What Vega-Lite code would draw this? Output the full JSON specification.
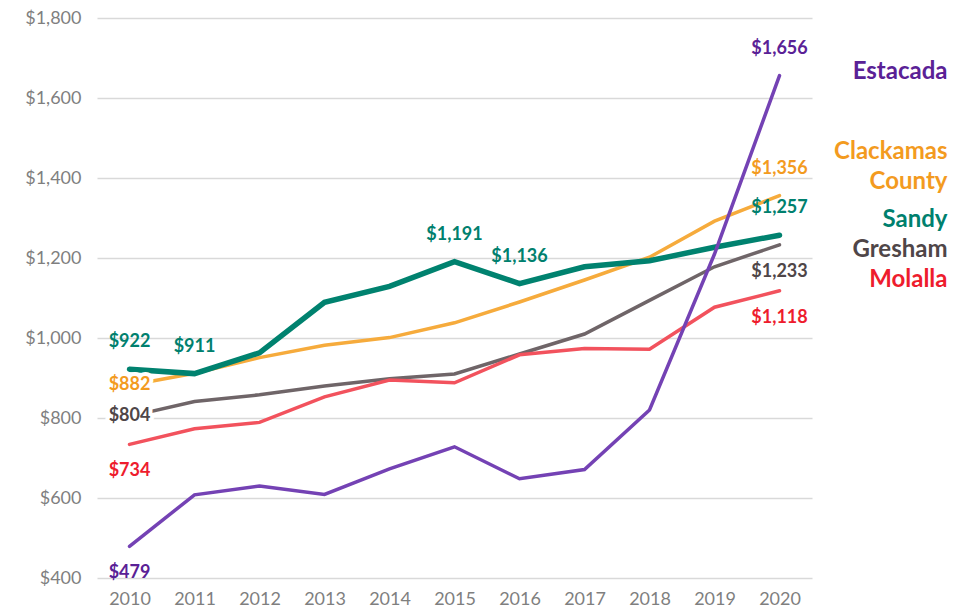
{
  "$schema": "https://vega.github.io/schema/vega-lite/v6.json",
  "width": 715,
  "height": 560,
  "autosize": "none",
  "padding": {"left": 97, "top": 18, "right": 156, "bottom": 33},
  "background": "white",
  "config": {"view": {"stroke": null}, "font": "Lato"},
  "datasets": {
    "rents": [
      {"series": "Gresham", "year": 2010, "rent": 804},
      {"series": "Gresham", "year": 2011, "rent": 841},
      {"series": "Gresham", "year": 2012, "rent": 858},
      {"series": "Gresham", "year": 2013, "rent": 880},
      {"series": "Gresham", "year": 2014, "rent": 898},
      {"series": "Gresham", "year": 2015, "rent": 910},
      {"series": "Gresham", "year": 2016, "rent": 960},
      {"series": "Gresham", "year": 2017, "rent": 1010},
      {"series": "Gresham", "year": 2018, "rent": 1094},
      {"series": "Gresham", "year": 2019, "rent": 1178},
      {"series": "Gresham", "year": 2020, "rent": 1233},
      {"series": "Molalla", "year": 2010, "rent": 734},
      {"series": "Molalla", "year": 2011, "rent": 773},
      {"series": "Molalla", "year": 2012, "rent": 789},
      {"series": "Molalla", "year": 2013, "rent": 853},
      {"series": "Molalla", "year": 2014, "rent": 895},
      {"series": "Molalla", "year": 2015, "rent": 888},
      {"series": "Molalla", "year": 2016, "rent": 958},
      {"series": "Molalla", "year": 2017, "rent": 974},
      {"series": "Molalla", "year": 2018, "rent": 972},
      {"series": "Molalla", "year": 2019, "rent": 1077},
      {"series": "Molalla", "year": 2020, "rent": 1118},
      {"series": "Clackamas County", "year": 2010, "rent": 882},
      {"series": "Clackamas County", "year": 2011, "rent": 912},
      {"series": "Clackamas County", "year": 2012, "rent": 951},
      {"series": "Clackamas County", "year": 2013, "rent": 982},
      {"series": "Clackamas County", "year": 2014, "rent": 1001},
      {"series": "Clackamas County", "year": 2015, "rent": 1038},
      {"series": "Clackamas County", "year": 2016, "rent": 1090},
      {"series": "Clackamas County", "year": 2017, "rent": 1145},
      {"series": "Clackamas County", "year": 2018, "rent": 1202},
      {"series": "Clackamas County", "year": 2019, "rent": 1292},
      {"series": "Clackamas County", "year": 2020, "rent": 1356},
      {"series": "Sandy", "year": 2010, "rent": 922},
      {"series": "Sandy", "year": 2011, "rent": 911},
      {"series": "Sandy", "year": 2012, "rent": 963},
      {"series": "Sandy", "year": 2013, "rent": 1089},
      {"series": "Sandy", "year": 2014, "rent": 1129},
      {"series": "Sandy", "year": 2015, "rent": 1191},
      {"series": "Sandy", "year": 2016, "rent": 1136},
      {"series": "Sandy", "year": 2017, "rent": 1178},
      {"series": "Sandy", "year": 2018, "rent": 1193},
      {"series": "Sandy", "year": 2019, "rent": 1227},
      {"series": "Sandy", "year": 2020, "rent": 1257},
      {"series": "Estacada", "year": 2010, "rent": 479},
      {"series": "Estacada", "year": 2011, "rent": 608},
      {"series": "Estacada", "year": 2012, "rent": 630},
      {"series": "Estacada", "year": 2013, "rent": 609},
      {"series": "Estacada", "year": 2014, "rent": 673},
      {"series": "Estacada", "year": 2015, "rent": 728},
      {"series": "Estacada", "year": 2016, "rent": 648},
      {"series": "Estacada", "year": 2017, "rent": 671},
      {"series": "Estacada", "year": 2018, "rent": 820},
      {"series": "Estacada", "year": 2019, "rent": 1210},
      {"series": "Estacada", "year": 2020, "rent": 1656}
    ],
    "names": [
      {"series": "Estacada", "name": "Estacada", "labelValue": 1665},
      {"series": "Clackamas County", "name": "Clackamas\nCounty", "labelValue": 1465},
      {"series": "Sandy", "name": "Sandy", "labelValue": 1295},
      {"series": "Gresham", "name": "Gresham", "labelValue": 1220},
      {"series": "Molalla", "name": "Molalla", "labelValue": 1145}
    ]
  },
  "encoding": {
    "x": {
      "field": "year", "type": "ordinal",
      "scale": {"type": "point", "padding": 0.5},
      "axis": {"title": null, "labelAngle": 0, "domain": false, "ticks": false, "labelFont": "Lato", "labelFontSize": 18, "labelColor": "#7f7f7f", "labelPadding": 12}
    },
    "y": {
      "field": "rent", "type": "quantitative",
      "scale": {"domain": [400, 1800], "nice": false, "zero": false},
      "axis": {"title": null, "values": [400, 600, 800, 1000, 1200, 1400, 1600, 1800], "format": "$,.0f", "domain": false, "ticks": false, "grid": true, "gridColor": "#d9d9d9", "gridWidth": 1.5, "labelFont": "Lato", "labelFontSize": 18, "labelColor": "#7f7f7f", "labelPadding": 16}
    }
  },
  "layer": [
    {
      "data": {"name": "rents"},
      "mark": {"type": "line", "strokeCap": "round", "strokeJoin": "miter"},
      "encoding": {
        "stroke": {"field": "series", "type": "nominal", "legend": null,
          "scale": {"domain": ["Gresham", "Molalla", "Clackamas County", "Sandy", "Estacada"], "range": ["#6f6568", "#f2525d", "#f6ab3c", "#00826f", "#7442b4"]}},
        "strokeWidth": {"field": "series", "type": "nominal", "legend": null,
          "scale": {"type": "ordinal", "domain": ["Gresham", "Molalla", "Clackamas County", "Sandy", "Estacada"], "range": [3.5, 3.5, 3.5, 5.5, 3.5]}}
      }
    },
    {
      "data": {"name": "rents"},
      "transform": [{"filter": "datum.year === 2010 && (datum.series === 'Clackamas County' || datum.series === 'Gresham')"}],
      "mark": {"type": "text", "fontSize": 18, "fontWeight": "bold", "baseline": "middle", "align": "center", "stroke": "white", "strokeWidth": 8, "fill": "white", "strokeJoin": "round"},
      "encoding": {"text": {"field": "rent", "type": "quantitative", "format": "$,.0f"}}
    },
    {
      "data": {"name": "rents"},
      "transform": [{"filter": "datum.year === 2010 && (datum.series === 'Clackamas County' || datum.series === 'Gresham')"}],
      "mark": {"type": "text", "fontSize": 18, "fontWeight": "bold", "baseline": "middle", "align": "center"},
      "encoding": {
        "text": {"field": "rent", "type": "quantitative", "format": "$,.0f"},
        "fill": {"field": "series", "type": "nominal", "legend": null,
          "scale": {"domain": ["Estacada", "Clackamas County", "Sandy", "Gresham", "Molalla"], "range": ["#5a2196", "#f39b1f", "#00806e", "#4f4648", "#ee1c2d"]}}
      }
    },
    {
      "data": {"name": "rents"},
      "transform": [{"filter": "(datum.series === 'Sandy' && indexof([2010, 2011, 2015, 2016, 2020], datum.year) >= 0) || (datum.year === 2020 && (datum.series === 'Estacada' || datum.series === 'Clackamas County'))"}],
      "mark": {"type": "text", "fontSize": 18, "fontWeight": "bold", "baseline": "middle", "align": "center", "dy": -27},
      "encoding": {
        "text": {"field": "rent", "type": "quantitative", "format": "$,.0f"},
        "fill": {"field": "series", "type": "nominal", "legend": null}
      }
    },
    {
      "data": {"name": "rents"},
      "transform": [{"filter": "(datum.series === 'Molalla' && (datum.year === 2010 || datum.year === 2020)) || (datum.year === 2020 && datum.series === 'Gresham') || (datum.year === 2010 && datum.series === 'Estacada')"}],
      "mark": {"type": "text", "fontSize": 18, "fontWeight": "bold", "baseline": "middle", "align": "center", "dy": 27},
      "encoding": {
        "text": {"field": "rent", "type": "quantitative", "format": "$,.0f"},
        "fill": {"field": "series", "type": "nominal", "legend": null}
      }
    },
    {
      "data": {"name": "names"},
      "mark": {"type": "text", "fontSize": 24, "fontWeight": "bold", "baseline": "middle", "align": "right", "dx": 168, "lineBreak": "\n", "lineHeight": 30},
      "encoding": {
        "x": {"datum": 2020, "type": "ordinal"},
        "y": {"field": "labelValue", "type": "quantitative"},
        "text": {"field": "name"},
        "fill": {"field": "series", "type": "nominal", "legend": null}
      }
    }
  ]
}
